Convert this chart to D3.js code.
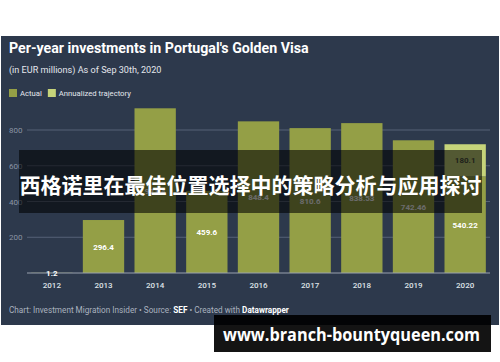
<!DOCTYPE html>
<html><head><meta charset="utf-8">
<script src="https://cdn.jsdelivr.net/npm/d3@7"></script>
<style>html,body{margin:0;padding:0;background:#fff;}svg{display:block;}</style>
</head><body>
<svg id="c" width="500" height="362"></svg>
<script>
const years = ["2012","2013","2014","2015","2016","2017","2018","2019","2020"];
const actual = [1.2, 296.4, 921.4, 459.6, 848.4, 810.6, 838.53, 742.46, 540.22];
const annualized = [0, 0, 0, 0, 0, 0, 0, 0, 180.1];
const yTicks = [200, 400, 600, 800];
const seriesNames = ["Actual", "Annualized trajectory"];

const svg = d3.select("#c");
const font = "Roboto, 'Noto Sans', sans-serif";
const cActual = "#949f46", cAnn = "#c6d47a", bg = "#2d394c";

svg.append("rect").attr("x",1).attr("y",36).attr("width",498).attr("height",289).attr("fill",bg);

svg.append("text").attr("x",9).attr("y",53).attr("fill","#fff").attr("font-family",font)
  .attr("font-weight",700).attr("font-size",14.2).text("Per-year investments in Portugal's Golden Visa");
svg.append("text").attr("x",9).attr("y",72.5).attr("fill","#e4e7ec").attr("font-family",font)
  .attr("font-size",9.1).text("(in EUR millions) As of Sep 30th, 2020");

// legend
const lg = svg.append("g");
let lx = 9;
seriesNames.forEach((n,i)=>{
  lg.append("rect").attr("x",lx).attr("y",89).attr("width",8).attr("height",8).attr("fill",i?cAnn:cActual);
  const t = lg.append("text").attr("x",lx+11).attr("y",96).attr("fill","#e4e7ec").attr("font-family",font)
    .attr("font-size",7.7).text(n);
  lx += 11 + t.node().getComputedTextLength() + 6;
});

const x = d3.scaleBand().domain(years).range([26,491]).paddingInner(0.2).paddingOuter(0.1);
const y = d3.scaleLinear().domain([0,800]).range([273,130]);

// grid
const grid = svg.append("g");
yTicks.forEach(v=>{
  grid.append("line").attr("x1",27).attr("x2",490).attr("y1",y(v)).attr("y2",y(v))
    .attr("stroke","#566277").attr("stroke-width",1);
  grid.append("text").attr("x",9).attr("y",y(v)+3).attr("fill","#8b94a3").attr("font-family",font)
    .attr("font-size",8).text(v);
});

// bars
const data = years.map((yr,i)=>({yr, a:actual[i], b:annualized[i]}));
svg.append("g").selectAll("rect.a").data(data).join("rect")
  .attr("x",d=>x(d.yr)).attr("width",x.bandwidth())
  .attr("y",d=>y(d.a)).attr("height",d=>y(0)-y(d.a)).attr("fill",cActual);
svg.append("g").selectAll("rect.b").data(data.filter(d=>d.b>0)).join("rect")
  .attr("x",d=>x(d.yr)).attr("width",x.bandwidth())
  .attr("y",d=>y(d.a+d.b)).attr("height",d=>y(d.a)-y(d.a+d.b)).attr("fill",cAnn);

// baseline
svg.append("line").attr("x1",27).attr("x2",490).attr("y1",y(0)).attr("y2",y(0))
  .attr("stroke","#9aa2ae").attr("stroke-width",1);

// value labels
const fmt = v => String(v);
svg.append("g").selectAll("text").data(data).join("text")
  .attr("x",d=>x(d.yr)+x.bandwidth()/2).attr("y",d=>(y(d.a)+y(0))/2+3)
  .attr("text-anchor","middle").attr("fill","#fff").attr("font-family",font)
  .attr("font-weight",700).attr("font-size",8).text(d=>fmt(d.a));
svg.append("g").selectAll("text").data(data.filter(d=>d.b>0)).join("text")
  .attr("x",d=>x(d.yr)+x.bandwidth()/2).attr("y",d=>(y(d.a)+y(d.a+d.b))/2+3)
  .attr("text-anchor","middle").attr("fill","#4a5040").attr("font-family",font)
  .attr("font-weight",700).attr("font-size",8).text(d=>fmt(d.b));

// x axis labels
svg.append("g").selectAll("text").data(years).join("text")
  .attr("x",d=>x(d)+x.bandwidth()/2).attr("y",287.5).attr("text-anchor","middle")
  .attr("fill","#dfe3e8").attr("font-family",font).attr("font-weight",500).attr("font-size",8).text(d=>d);

// footer
const ft = svg.append("text").attr("x",9).attr("y",313).attr("fill","#aab2bf").attr("font-family",font).attr("font-size",8.2);
ft.append("tspan").text("Chart: Investment Migration Insider • Source: ");
ft.append("tspan").attr("font-weight",700).attr("fill","#fff").text("SEF");
ft.append("tspan").text(" • Created with ");
ft.append("tspan").attr("font-weight",700).attr("fill","#fff").text("Datawrapper");

// overlay banner
svg.append("rect").attr("x",19).attr("y",150).attr("width",463).attr("height",63).attr("fill","#000").attr("opacity",0.58);
svg.append("text").attr("x",250.5).attr("y",192.5).attr("text-anchor","middle").attr("fill","#fff")
  .attr("font-family","'Noto Sans CJK SC', sans-serif").attr("font-weight",700).attr("font-size",21)
  .text("西格诺里在最佳位置选择中的策略分析与应用探讨");

// url box
svg.append("rect").attr("x",214).attr("y",315).attr("width",277).attr("height",37).attr("fill","#000").attr("opacity",0.92);
svg.append("text").attr("x",223).attr("y",341).attr("fill","#fff")
  .attr("font-family","'Open Sans', 'DejaVu Sans', sans-serif").attr("font-weight",700).attr("font-size",17)
  .attr("textLength",257).attr("lengthAdjust","spacingAndGlyphs")
  .text("www.branch-bountyqueen.com");
</script>
</body></html>
